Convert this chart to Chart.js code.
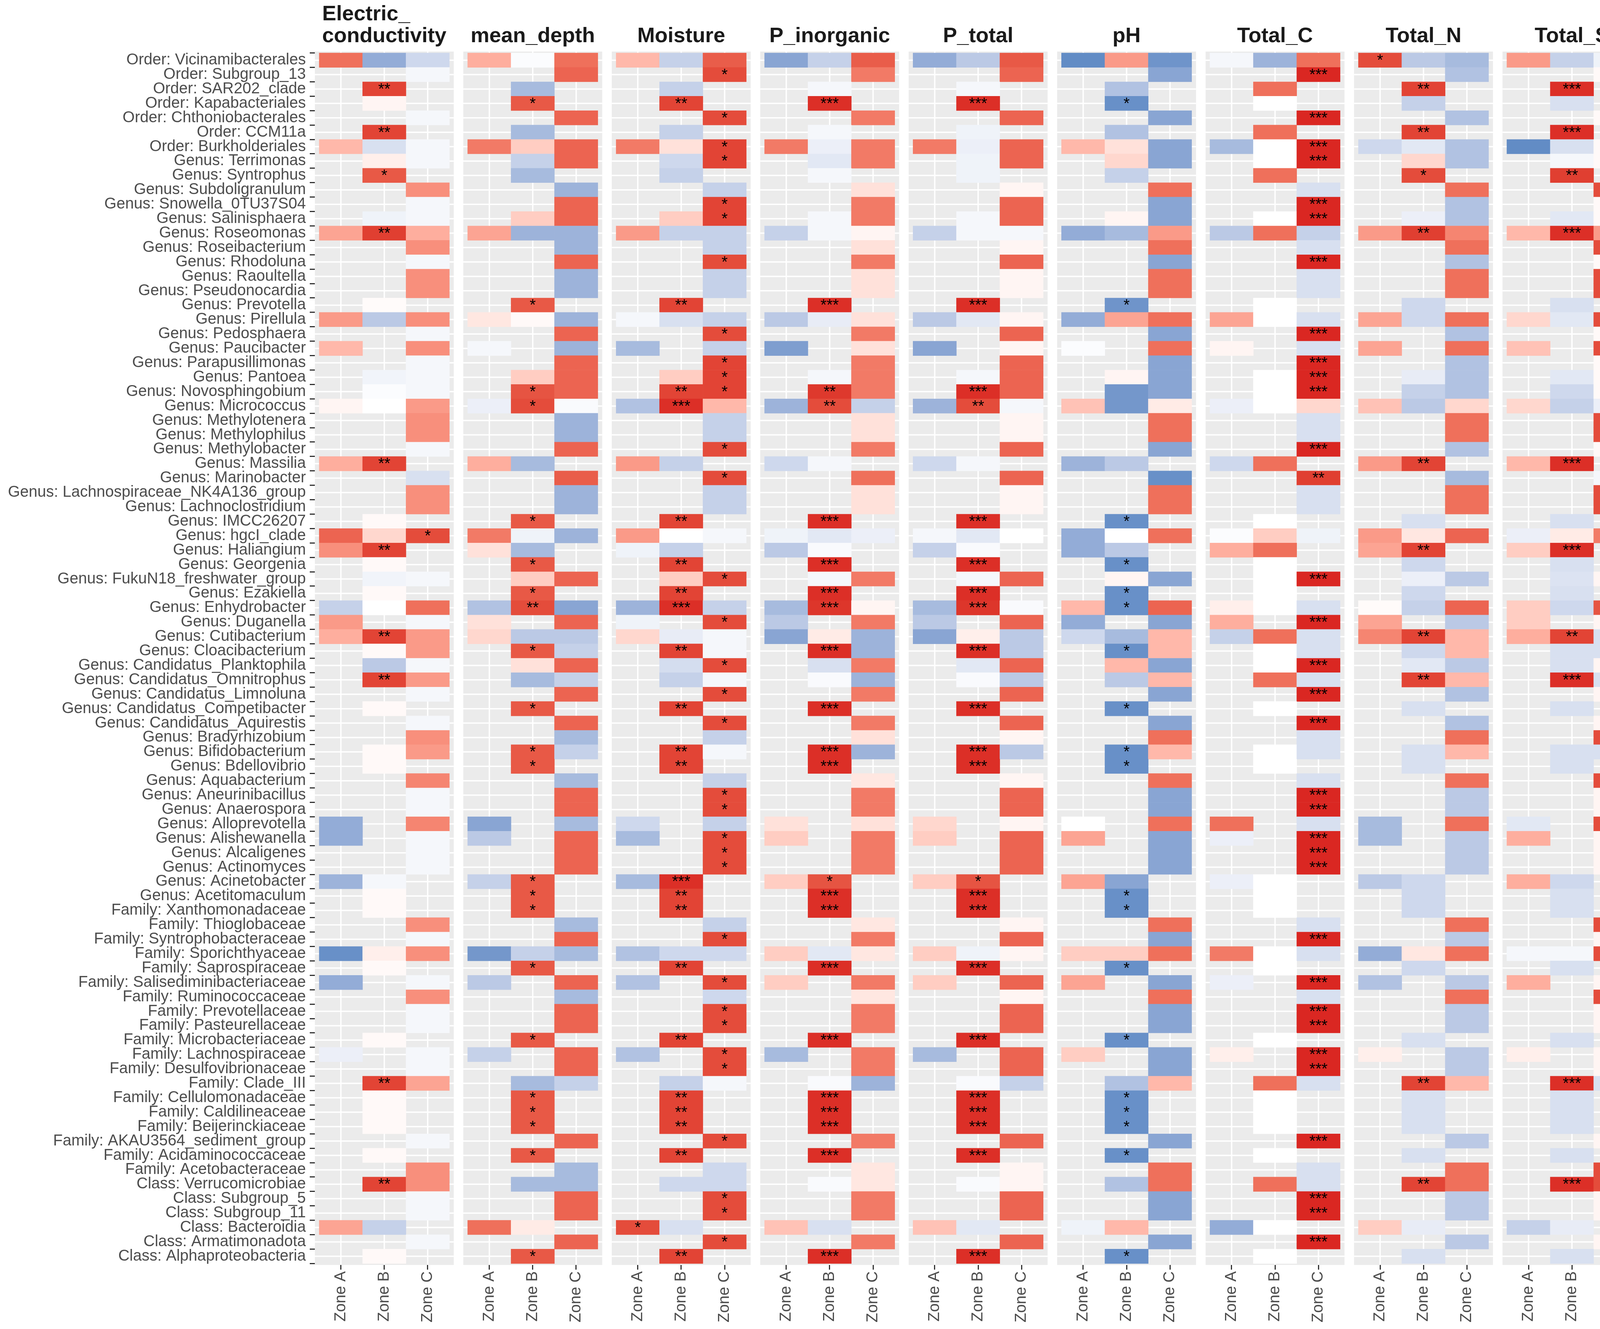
<!DOCTYPE html>
<html>
<head>
<meta charset="utf-8">
<script src="https://cdn.jsdelivr.net/npm/chart.js"></script>
<style>
  html, body { margin: 0; padding: 0; background: #ffffff; }
  canvas { display: block; }
</style>
</head>
<body>
<canvas id="heat" width="4550" height="3403" style="width:4550px;height:3403px"></canvas>
<script>
const _ = null;

// taxa, top to bottom
const rowLabels = [
  'Order: Vicinamibacterales', 'Order: Subgroup_13', 'Order: SAR202_clade', 'Order: Kapabacteriales',
  'Order: Chthoniobacterales', 'Order: CCM11a', 'Order: Burkholderiales', 'Genus: Terrimonas',
  'Genus: Syntrophus', 'Genus: Subdoligranulum', 'Genus: Snowella_0TU37S04', 'Genus: Salinisphaera',
  'Genus: Roseomonas', 'Genus: Roseibacterium', 'Genus: Rhodoluna', 'Genus: Raoultella',
  'Genus: Pseudonocardia', 'Genus: Prevotella', 'Genus: Pirellula', 'Genus: Pedosphaera',
  'Genus: Paucibacter', 'Genus: Parapusillimonas', 'Genus: Pantoea', 'Genus: Novosphingobium',
  'Genus: Micrococcus', 'Genus: Methylotenera', 'Genus: Methylophilus', 'Genus: Methylobacter',
  'Genus: Massilia', 'Genus: Marinobacter', 'Genus: Lachnospiraceae_NK4A136_group', 'Genus: Lachnoclostridium',
  'Genus: IMCC26207', 'Genus: hgcI_clade', 'Genus: Haliangium', 'Genus: Georgenia',
  'Genus: FukuN18_freshwater_group', 'Genus: Ezakiella', 'Genus: Enhydrobacter', 'Genus: Duganella',
  'Genus: Cutibacterium', 'Genus: Cloacibacterium', 'Genus: Candidatus_Planktophila', 'Genus: Candidatus_Omnitrophus',
  'Genus: Candidatus_Limnoluna', 'Genus: Candidatus_Competibacter', 'Genus: Candidatus_Aquirestis', 'Genus: Bradyrhizobium',
  'Genus: Bifidobacterium', 'Genus: Bdellovibrio', 'Genus: Aquabacterium', 'Genus: Aneurinibacillus',
  'Genus: Anaerospora', 'Genus: Alloprevotella', 'Genus: Alishewanella', 'Genus: Alcaligenes',
  'Genus: Actinomyces', 'Genus: Acinetobacter', 'Genus: Acetitomaculum', 'Family: Xanthomonadaceae',
  'Family: Thioglobaceae', 'Family: Syntrophobacteraceae', 'Family: Sporichthyaceae', 'Family: Saprospiraceae',
  'Family: Salisediminibacteriaceae', 'Family: Ruminococcaceae', 'Family: Prevotellaceae', 'Family: Pasteurellaceae',
  'Family: Microbacteriaceae', 'Family: Lachnospiraceae', 'Family: Desulfovibrionaceae', 'Family: Clade_III',
  'Family: Cellulomonadaceae', 'Family: Caldilineaceae', 'Family: Beijerinckiaceae', 'Family: AKAU3564_sediment_group',
  'Family: Acidaminococcaceae', 'Family: Acetobacteraceae', 'Class: Verrucomicrobiae', 'Class: Subgroup_5',
  'Class: Subgroup_11', 'Class: Bacteroidia', 'Class: Armatimonadota', 'Class: Alphaproteobacteria'
];

const zoneNames = ['Zone A', 'Zone B', 'Zone C'];
const legendTicks = [1.0, 0.5, 0.0, -0.5];

// correlation per taxon, [Zone A, Zone B, Zone C]; null = not present
const ecVals = [
  [.7,-.55,-.25], [_,_,-.05], [_,.88,_], [_,.05,_], [_,_,-.05], [_,.88,_], [.35,-.2,-.05],
  [_,.08,-.05], [_,.8,_], [_,_,.55], [_,_,-.05], [_,-.08,-.05], [.45,.9,.4], [_,_,.55],
  [_,_,-.05], [_,_,.55], [_,_,.55], [_,.02,_], [.5,-.35,.55], [_,_,-.05], [.35,_,.55],
  [_,_,-.05], [_,-.07,-.05], [_,-.02,-.05], [.05,0,.5], [_,_,.55], [_,_,.55], [_,_,-.05],
  [.4,.88,_], [_,_,-.2], [_,_,.55], [_,_,.55], [_,.03,_], [.75,.2,.85], [.55,.88,_],
  [_,.03,_], [_,-.07,-.05], [_,.03,_], [-.3,0,.7], [.5,_,-.05], [.4,.88,.5], [_,.03,.5],
  [_,-.35,-.05], [_,.88,.5], [_,_,-.05], [_,.03,_], [_,_,-.05], [_,_,.55], [_,.03,.5],
  [_,.03,_], [_,_,.6], [_,_,-.05], [_,_,-.05], [-.55,_,.6], [-.55,_,-.05], [_,_,-.05],
  [_,_,-.05], [-.5,-.05,_], [_,.03,_], [_,.03,_], [_,_,.55], [_,_,-.05], [-.75,.08,.55],
  [_,.03,_], [-.55,_,-.05], [_,_,.55], [_,_,-.05], [_,_,-.05], [_,.03,_], [-.1,_,-.05],
  [_,_,-.05], [_,.88,.45], [_,.03,_], [_,.03,_], [_,.03,_], [_,_,-.05], [_,.03,_],
  [_,_,.55], [_,.88,.55], [_,_,-.05], [_,_,-.05], [.45,-.3,_], [_,_,-.05], [_,.03,_]
];
const depthVals = [
  [.4,-.02,.7], [_,_,.75], [_,-.45,_], [_,.8,_], [_,_,.75], [_,-.45,_], [.65,.25,.75],
  [_,-.3,.75], [_,-.45,_], [_,_,-.5], [_,_,.75], [_,.25,.75], [.45,-.5,-.5], [_,_,-.5],
  [_,_,.75], [_,_,-.5], [_,_,-.5], [_,.8,_], [.12,.03,-.5], [_,_,.75], [-.05,_,-.5],
  [_,_,.75], [_,.25,.75], [_,.82,.75], [-.1,.85,-.03], [_,_,-.5], [_,_,-.5], [_,_,.75],
  [.4,-.45,_], [_,_,.78], [_,_,-.5], [_,_,-.5], [_,.8,_], [.65,-.08,-.5], [.15,-.45,_],
  [_,.8,_], [_,.25,.75], [_,.8,_], [-.4,.85,-.6], [.15,_,.75], [.2,-.35,-.35], [_,.8,-.3],
  [_,.15,.75], [_,-.45,-.3], [_,_,.75], [_,.8,_], [_,_,.75], [_,_,-.45], [_,.8,-.3],
  [_,.8,_], [_,_,-.45], [_,_,.75], [_,_,.75], [-.6,_,-.45], [-.35,_,.75], [_,_,.75],
  [_,_,.75], [-.3,.8,_], [_,.8,_], [_,.8,_], [_,_,-.45], [_,_,.75], [-.7,-.3,-.45],
  [_,.8,_], [-.35,_,.75], [_,_,-.45], [_,_,.75], [_,_,.75], [_,.8,_], [-.3,_,.75],
  [_,_,.75], [_,-.45,-.3], [_,.8,_], [_,.8,_], [_,.8,_], [_,_,.75], [_,.8,_],
  [_,_,-.45], [_,-.45,-.45], [_,_,.75], [_,_,.75], [.7,.1,_], [_,_,.75], [_,.8,_]
];
const moistVals = [
  [.35,-.3,.78], [_,_,.85], [_,-.3,_], [_,.88,_], [_,_,.85], [_,-.3,_], [.65,.15,.88],
  [_,-.25,.88], [_,-.3,_], [_,_,-.3], [_,_,.88], [_,.25,.88], [.5,-.3,-.3], [_,_,-.3],
  [_,_,.85], [_,_,-.3], [_,_,-.3], [_,.88,_], [-.05,-.2,-.3], [_,_,.85], [-.45,_,-.3],
  [_,_,.88], [_,.25,.88], [_,.88,.88], [-.4,.95,.35], [_,_,-.3], [_,_,-.3], [_,_,.85],
  [.5,-.3,_], [_,_,.85], [_,_,-.3], [_,_,-.3], [_,.88,_], [.5,0,-.05], [-.08,-.3,_],
  [_,.88,_], [_,.25,.85], [_,.88,_], [-.5,.95,-.3], [-.08,_,.85], [.2,-.12,-.05], [_,.88,-.05],
  [_,-.22,.85], [_,-.3,-.05], [_,_,.85], [_,.88,_], [_,_,.85], [_,_,-.3], [_,.88,-.05],
  [_,.88,_], [_,_,-.3], [_,_,.85], [_,_,.85], [-.25,_,-.3], [-.45,_,.85], [_,_,.85],
  [_,_,.85], [-.45,.95,_], [_,.88,_], [_,.88,_], [_,_,-.3], [_,_,.85], [-.4,-.25,-.25],
  [_,.88,_], [-.4,_,.85], [_,_,-.25], [_,_,.85], [_,_,.85], [_,.88,_], [-.4,_,.85],
  [_,_,.85], [_,-.3,-.05], [_,.88,_], [_,.88,_], [_,.88,_], [_,_,.85], [_,.88,_],
  [_,_,-.25], [_,-.25,-.25], [_,_,.85], [_,_,.85], [.85,-.2,_], [_,_,.85], [_,.88,_]
];
const pinVals = [
  [-.6,-.3,.78], [_,_,.65], [_,-.05,_], [_,.95,_], [_,_,.65], [_,-.05,_], [.65,-.1,.65],
  [_,-.15,.65], [_,-.05,_], [_,_,.15], [_,_,.65], [_,-.05,.65], [-.3,-.05,.05], [_,_,.15],
  [_,_,.65], [_,_,.15], [_,_,.15], [_,.95,_], [-.35,-.12,.15], [_,_,.65], [-.65,_,.15],
  [_,_,.65], [_,-.05,.65], [_,.92,.65], [-.5,.85,-.3], [_,_,.15], [_,_,.15], [_,_,.65],
  [-.25,-.05,_], [_,_,.7], [_,_,.15], [_,_,.15], [_,.95,_], [-.08,-.15,-.1], [-.35,-.03,_],
  [_,.95,_], [_,-.05,.65], [_,.95,_], [-.45,.93,.05], [-.35,_,.65], [-.6,.1,-.5], [_,.95,-.5],
  [_,-.2,.65], [_,-.03,-.5], [_,_,.65], [_,.95,_], [_,_,.65], [_,_,.15], [_,.95,-.5],
  [_,.95,_], [_,_,.12], [_,_,.65], [_,_,.65], [.15,_,.15], [.25,_,.65], [_,_,.65],
  [_,_,.65], [.25,.82,_], [_,.95,_], [_,.95,_], [_,_,.12], [_,_,.65], [.25,-.15,.12],
  [_,.95,_], [.25,_,.65], [_,_,.12], [_,_,.65], [_,_,.65], [_,.95,_], [-.45,_,.65],
  [_,_,.65], [_,-.03,-.5], [_,.95,_], [_,.95,_], [_,.95,_], [_,_,.65], [_,.95,_],
  [_,_,.12], [_,-.03,.12], [_,_,.65], [_,_,.65], [.3,-.2,_], [_,_,.65], [_,.95,_]
];
const ptotVals = [
  [-.55,-.35,.8], [_,_,.75], [_,-.05,_], [_,.95,_], [_,_,.75], [_,-.08,_], [.65,-.1,.75],
  [_,-.08,.75], [_,-.08,_], [_,_,.05], [_,_,.75], [_,-.05,.75], [-.3,-.05,-.05], [_,_,.05],
  [_,_,.75], [_,_,.05], [_,_,.05], [_,.95,_], [-.35,-.15,.05], [_,_,.75], [-.6,_,.05],
  [_,_,.75], [_,-.05,.75], [_,.95,.75], [-.5,.85,-.05], [_,_,.05], [_,_,.05], [_,_,.75],
  [-.25,-.05,_], [_,_,.75], [_,_,.05], [_,_,.05], [_,.95,_], [-.05,-.15,0], [-.3,-.03,_],
  [_,.95,_], [_,-.05,.75], [_,.95,_], [-.45,.93,-.03], [-.35,_,.75], [-.6,.08,-.35], [_,.95,-.35],
  [_,-.15,.75], [_,-.03,-.35], [_,_,.75], [_,.95,_], [_,_,.75], [_,_,.05], [_,.95,-.35],
  [_,.95,_], [_,_,.05], [_,_,.75], [_,_,.75], [.2,_,.05], [.25,_,.75], [_,_,.75],
  [_,_,.75], [.25,.82,_], [_,.95,_], [_,.95,_], [_,_,.05], [_,_,.75], [.25,-.08,.05],
  [_,.95,_], [.25,_,.75], [_,_,.05], [_,_,.75], [_,_,.75], [_,.95,_], [-.45,_,.75],
  [_,_,.75], [_,-.03,-.3], [_,.95,_], [_,.95,_], [_,.95,_], [_,_,.75], [_,.95,_],
  [_,_,.05], [_,-.03,.05], [_,_,.75], [_,_,.75], [.3,-.15,_], [_,_,.75], [_,.95,_]
];
const phVals = [
  [-.78,.5,-.72], [_,_,-.6], [_,-.4,_], [_,-.75,_], [_,_,-.6], [_,-.4,_], [.35,.15,-.6],
  [_,.2,-.6], [_,-.3,_], [_,_,.7], [_,_,-.6], [_,.05,-.6], [-.55,-.45,.5], [_,_,.7],
  [_,_,-.6], [_,_,.7], [_,_,.7], [_,-.72,_], [-.55,.45,.7], [_,_,-.6], [-.02,_,.7],
  [_,_,-.6], [_,.05,-.6], [_,-.7,-.6], [.3,-.7,.1], [_,_,.7], [_,_,.7], [_,_,-.6],
  [-.5,-.35,_], [_,_,-.75], [_,_,.7], [_,_,.7], [_,-.75,_], [-.55,0,.7], [-.55,-.35,_],
  [_,-.75,_], [_,.05,-.6], [_,-.75,_], [.35,-.75,.75], [-.55,_,-.6], [-.25,-.45,.35], [_,-.75,.35],
  [_,.35,-.6], [_,-.35,.35], [_,_,-.6], [_,-.75,_], [_,_,-.6], [_,_,.7], [_,-.75,.35],
  [_,-.75,_], [_,_,.7], [_,_,-.6], [_,_,-.6], [0,_,.7], [.45,_,-.6], [_,_,-.6],
  [_,_,-.6], [.45,-.6,_], [_,-.75,_], [_,-.75,_], [_,_,.7], [_,_,-.6], [.25,.25,.7],
  [_,-.75,_], [.45,_,-.6], [_,_,.7], [_,_,-.6], [_,_,-.6], [_,-.75,_], [.25,_,-.6],
  [_,_,-.6], [_,-.4,.35], [_,-.75,_], [_,-.75,_], [_,-.75,_], [_,_,-.6], [_,-.75,_],
  [_,_,.7], [_,-.4,.7], [_,_,-.6], [_,_,-.6], [-.08,.35,_], [_,_,-.6], [_,-.75,_]
];
const tcVals = [
  [-.05,-.5,.7], [_,_,.97], [_,.7,_], [_,0,_], [_,_,.97], [_,.7,_], [-.45,0,.97],
  [_,0,.97], [_,.7,_], [_,_,-.2], [_,_,.97], [_,0,.97], [-.35,.7,-.3], [_,_,-.2],
  [_,_,.97], [_,_,-.2], [_,_,-.2], [_,0,_], [.45,0,-.2], [_,_,.97], [.05,_,-.2],
  [_,_,.97], [_,0,.97], [_,0,.97], [-.1,0,.2], [_,_,-.2], [_,_,-.2], [_,_,.97],
  [-.25,.7,_], [_,_,.9], [_,_,-.2], [_,_,-.2], [_,0,_], [-.02,.25,-.08], [.4,.7,_],
  [_,0,_], [_,0,.97], [_,0,_], [.08,0,-.2], [.4,_,.97], [-.3,.7,-.2], [_,0,-.2],
  [_,0,.97], [_,.7,-.2], [_,_,.97], [_,0,_], [_,_,.97], [_,_,-.2], [_,0,-.2],
  [_,0,_], [_,_,-.2], [_,_,.97], [_,_,.97], [.7,_,-.2], [-.1,_,.97], [_,_,.97],
  [_,_,.97], [-.1,0,_], [_,0,_], [_,0,_], [_,_,-.2], [_,_,.97], [.65,0,-.2],
  [_,0,_], [-.1,_,.97], [_,_,-.2], [_,_,.97], [_,_,.97], [_,0,_], [.08,_,.97],
  [_,_,.97], [_,.7,-.2], [_,0,_], [_,0,_], [_,0,_], [_,_,.97], [_,0,_],
  [_,_,-.2], [_,.7,-.2], [_,_,.97], [_,_,.97], [-.55,0,_], [_,_,.97], [_,0,_]
];
const tnVals = [
  [.85,-.35,-.45], [_,_,-.4], [_,.88,_], [_,-.3,_], [_,_,-.4], [_,.88,_], [-.25,-.15,-.4],
  [_,.2,-.4], [_,.85,_], [_,_,.7], [_,_,-.4], [_,-.1,-.4], [.5,.9,.6], [_,_,.7],
  [_,_,-.4], [_,_,.7], [_,_,.7], [_,-.25,_], [.45,-.25,.7], [_,_,-.4], [.45,_,.7],
  [_,_,-.4], [_,-.12,-.4], [_,-.3,-.4], [.3,-.35,.2], [_,_,.7], [_,_,.7], [_,_,-.4],
  [.5,.88,_], [_,_,-.45], [_,_,.7], [_,_,.7], [_,-.2,_], [.5,.12,.75], [.45,.88,_],
  [_,-.25,_], [_,-.1,-.35], [_,-.25,_], [.02,-.3,.75], [.45,_,-.35], [.6,.88,.35], [_,-.25,.35],
  [_,-.15,-.35], [_,.88,.35], [_,_,-.4], [_,-.2,_], [_,_,-.4], [_,_,.7], [_,-.2,.35],
  [_,-.2,_], [_,_,.7], [_,_,-.35], [_,_,-.35], [-.45,_,.7], [-.45,_,-.35], [_,_,-.35],
  [_,_,-.35], [-.35,-.25,_], [_,-.25,_], [_,-.25,_], [_,_,.7], [_,_,-.35], [-.55,.12,.7],
  [_,-.25,_], [-.4,_,-.35], [_,_,.7], [_,_,-.35], [_,_,-.35], [_,-.2,_], [.08,_,-.35],
  [_,_,-.35], [_,.88,.35], [_,-.2,_], [_,-.2,_], [_,-.2,_], [_,_,-.35], [_,-.2,_],
  [_,_,.7], [_,.88,.7], [_,_,-.35], [_,_,-.35], [.25,-.12,_], [_,_,-.35], [_,-.2,_]
];
const tsVals = [
  [.5,-.3,-.08], [_,_,.03], [_,.95,_], [_,-.2,_], [_,_,.03], [_,.95,_], [-.78,-.2,.03],
  [_,-.05,.03], [_,.9,_], [_,_,.85], [_,_,.03], [_,-.15,.03], [.35,.95,.5], [_,_,.85],
  [_,_,.03], [_,_,.85], [_,_,.85], [_,-.2,_], [.2,-.15,.85], [_,_,.03], [.3,_,.85],
  [_,_,.03], [_,-.15,.03], [_,-.25,.03], [.2,-.3,-.1], [_,_,.85], [_,_,.85], [_,_,.03],
  [.35,.95,_], [_,_,-.05], [_,_,.85], [_,_,.85], [_,-.2,_], [-.1,.1,.65], [.25,.95,_],
  [_,-.2,_], [_,-.18,.05], [_,-.2,_], [.25,-.25,.82], [.25,_,.05], [.4,.88,-.2], [_,-.2,-.2],
  [_,-.2,.05], [_,.95,-.2], [_,_,.05], [_,-.2,_], [_,_,.05], [_,_,.85], [_,-.2,-.2],
  [_,-.2,_], [_,_,.85], [_,_,.05], [_,_,.05], [-.15,_,.85], [.4,_,.05], [_,_,.05],
  [_,_,.05], [.4,-.25,_], [_,-.2,_], [_,-.2,_], [_,_,.85], [_,_,.05], [-.05,-.05,.85],
  [_,-.2,_], [.4,_,.05], [_,_,.85], [_,_,.05], [_,_,.05], [_,-.2,_], [.08,_,.05],
  [_,_,.05], [_,.95,-.2], [_,-.2,_], [_,-.2,_], [_,-.2,_], [_,_,.05], [_,-.2,_],
  [_,_,.85], [_,.95,.85], [_,_,.05], [_,_,.05], [-.3,-.12,_], [_,_,.05], [_,-.2,_]
];

// significance marks: [zone, mark, row numbers (1 = top)]
const ecStars = [['B', '**', [3, 6, 13, 29, 35, 41, 44, 72, 79]], ['B', '*', [9]], ['C', '*', [34]]];
const depthStars = [['B', '*', [4, 18, 24, 25, 33, 36, 38, 42, 46, 49, 50, 58, 59, 60, 64, 69, 73, 74, 75, 77, 84]], ['B', '**', [39]]];
const moistStars = [
  ['A', '*', [82]],
  ['B', '**', [4, 18, 24, 33, 36, 38, 42, 46, 49, 50, 59, 60, 64, 69, 73, 74, 75, 77, 84]],
  ['B', '***', [25, 39, 58]],
  ['C', '*', [2, 5, 7, 8, 11, 12, 15, 20, 22, 23, 24, 28, 30, 37, 40, 43, 45, 47, 52, 53, 55, 56, 57, 62, 65, 67, 68, 70, 71, 76, 80, 81, 83]]
];
const pinStars = [['B', '***', [4, 18, 33, 36, 38, 39, 42, 46, 49, 50, 59, 60, 64, 69, 73, 74, 75, 77, 84]], ['B', '**', [24, 25]], ['B', '*', [58]]];
const ptotStars = [['B', '***', [4, 18, 24, 33, 36, 38, 39, 42, 46, 49, 50, 59, 60, 64, 69, 73, 74, 75, 77, 84]], ['B', '**', [25]], ['B', '*', [58]]];
const phStars = [['B', '*', [4, 18, 33, 36, 38, 39, 42, 46, 49, 50, 59, 60, 64, 69, 73, 74, 75, 77, 84]]];
const tcStars = [
  ['C', '***', [2, 5, 7, 8, 11, 12, 15, 20, 22, 23, 24, 28, 37, 40, 43, 45, 47, 52, 53, 55, 56, 57, 62, 65, 67, 68, 70, 71, 76, 80, 81, 83]],
  ['C', '**', [30]]
];
const tnStars = [['A', '*', [1]], ['B', '**', [3, 6, 13, 29, 35, 41, 44, 72, 79]], ['B', '*', [9]]];
const tsStars = [
  ['B', '***', [3, 6, 13, 29, 35, 44, 72, 79]],
  ['B', '**', [9, 41]],
  ['C', '*', [10, 14, 16, 17, 19, 21, 26, 27, 31, 32, 48, 51, 54, 61, 63, 66, 78, 79]]
];

const panels = [
  { title: ['Electric_', 'conductivity'], vals: ecVals, stars: ecStars },
  { title: ['mean_depth'], vals: depthVals, stars: depthStars },
  { title: ['Moisture'], vals: moistVals, stars: moistStars },
  { title: ['P_inorganic'], vals: pinVals, stars: pinStars },
  { title: ['P_total'], vals: ptotVals, stars: ptotStars },
  { title: ['pH'], vals: phVals, stars: phStars },
  { title: ['Total_C'], vals: tcVals, stars: tcStars },
  { title: ['Total_N'], vals: tnVals, stars: tnStars },
  { title: ['Total_S'], vals: tsVals, stars: tsStars }
];

// facet geometry in x-scale units
const PANEL_STEP = 3.42;
const PANEL_W = 3.2;
const zoneCenter = (p, z) => p * PANEL_STEP + 0.6 + z;

const FONT = "'Liberation Sans', Arial, Helvetica, sans-serif";
Chart.defaults.font.family = FONT;

// diverging fill, interpolated in Lab like ggplot's gradient2
function hexRgb(h) {
  const n = parseInt(h.slice(1), 16);
  return [(n >> 16) & 255, (n >> 8) & 255, n & 255];
}
function rgbToLab(rgb) {
  const lin = c => { c /= 255; return c <= 0.04045 ? c / 12.92 : Math.pow((c + 0.055) / 1.055, 2.4); };
  const R = lin(rgb[0]), G = lin(rgb[1]), B = lin(rgb[2]);
  const X = (0.4124 * R + 0.3576 * G + 0.1805 * B) / 0.95047;
  const Y = 0.2126 * R + 0.7152 * G + 0.0722 * B;
  const Z = (0.0193 * R + 0.1192 * G + 0.9505 * B) / 1.08883;
  const f = t => t > 0.008856 ? Math.cbrt(t) : 7.787 * t + 16 / 116;
  return [116 * f(Y) - 16, 500 * (f(X) - f(Y)), 200 * (f(Y) - f(Z))];
}
function labToRgb(lab) {
  const fy = (lab[0] + 16) / 116, fx = fy + lab[1] / 500, fz = fy - lab[2] / 200;
  const inv = t => (t * t * t > 0.008856 ? t * t * t : (t - 16 / 116) / 7.787);
  const X = inv(fx) * 0.95047, Y = inv(fy), Z = inv(fz) * 1.08883;
  const R = 3.2406 * X - 1.5372 * Y - 0.4986 * Z;
  const G = -0.9689 * X + 1.8758 * Y + 0.0415 * Z;
  const B = 0.0557 * X - 0.2040 * Y + 1.0570 * Z;
  const gam = c => {
    c = c <= 0.0031308 ? 12.92 * c : 1.055 * Math.pow(c, 1 / 2.4) - 0.055;
    return Math.round(Math.min(1, Math.max(0, c)) * 255);
  };
  return [gam(R), gam(G), gam(B)];
}
const LOW = rgbToLab(hexRgb('#1C6EB5'));
const MID = rgbToLab(hexRgb('#FFFFFF'));
const HIGH = rgbToLab(hexRgb('#D7191C'));
function corrColor(v) {
  const end = v >= 0 ? HIGH : LOW;
  const t = Math.min(1, Math.abs(v));
  const c = labToRgb([0, 1, 2].map(i => MID[i] + (end[i] - MID[i]) * t));
  return `rgb(${c[0]},${c[1]},${c[2]})`;
}

// one dataset per facet, each tile a floating bar spanning its zone
const datasets = panels.map((pn, p) => {
  const data = [];
  pn.vals.forEach((row, r) => {
    row.forEach((v, z) => {
      if (v === null) return;
      const c = zoneCenter(p, z);
      data.push({ x: [c - 0.5, c + 0.5], y: r + 1, v: v });
    });
  });
  return {
    data: data,
    backgroundColor: ctx => (ctx.raw ? corrColor(ctx.raw.v) : 'rgba(0,0,0,0)'),
    borderWidth: 0,
    borderSkipped: false,
    grouped: false,
    categoryPercentage: 1,
    barPercentage: 1
  };
});

// grey panels + white grid behind the tiles
const panelBack = {
  id: 'panelBack',
  beforeDatasetsDraw(chart) {
    const { ctx, chartArea: a, scales: { x, y } } = chart;
    ctx.save();
    panels.forEach((pn, p) => {
      const x0 = x.getPixelForValue(p * PANEL_STEP);
      const x1 = x.getPixelForValue(p * PANEL_STEP + PANEL_W);
      ctx.fillStyle = '#EBEBEB';
      ctx.fillRect(x0, a.top, x1 - x0, a.bottom - a.top);
      ctx.strokeStyle = '#FFFFFF';
      ctx.lineWidth = 3.5;
      ctx.beginPath();
      rowLabels.forEach((lab, r) => {
        const yy = y.getPixelForValue(r + 1);
        ctx.moveTo(x0, yy);
        ctx.lineTo(x1, yy);
      });
      zoneNames.forEach((zn, z) => {
        const xx = x.getPixelForValue(zoneCenter(p, z));
        ctx.moveTo(xx, a.top);
        ctx.lineTo(xx, a.bottom);
      });
      ctx.stroke();
    });
    ctx.restore();
  }
};

// asterisks on top of tiles
const starMarks = {
  id: 'starMarks',
  afterDatasetsDraw(chart) {
    const { ctx, scales: { x, y } } = chart;
    ctx.save();
    ctx.fillStyle = '#000000';
    ctx.font = `40px ${FONT}`;
    ctx.textAlign = 'center';
    ctx.textBaseline = 'middle';
    panels.forEach((pn, p) => {
      pn.stars.forEach(([zone, mark, rows]) => {
        const z = zoneNames.indexOf('Zone ' + zone);
        const xx = x.getPixelForValue(zoneCenter(p, z));
        rows.forEach(r => ctx.fillText(mark, xx, y.getPixelForValue(r) + 2));
      });
    });
    ctx.restore();
  }
};

// facet titles and colourbar legend
const decorations = {
  id: 'decorations',
  afterDraw(chart) {
    const { ctx, scales: { x } } = chart;
    ctx.save();
    ctx.fillStyle = '#1A1A1A';
    ctx.font = `bold 54px ${FONT}`;
    ctx.textBaseline = 'alphabetic';
    ctx.textAlign = 'left';
    panels.forEach((pn, p) => {
      const cx = x.getPixelForValue(p * PANEL_STEP + PANEL_W / 2);
      const w = Math.max(...pn.title.map(t => ctx.measureText(t).width));
      const baselines = pn.title.length === 2 ? [52, 108] : [108];
      pn.title.forEach((t, i) => ctx.fillText(t, cx - w / 2, baselines[i]));
    });

    // colourbar
    const barL = 4294, barW = 77, zeroY = 1723, perUnit = 201;
    const vTop = 1.0, vBot = -0.87;
    const yTop = zeroY - vTop * perUnit, yBot = zeroY - vBot * perUnit;
    for (let yy = Math.floor(yTop); yy < yBot; yy++) {
      ctx.fillStyle = corrColor((zeroY - (yy + 0.5)) / perUnit);
      ctx.fillRect(barL, yy, barW, 1.2);
    }
    ctx.strokeStyle = '#FFFFFF';
    ctx.lineWidth = 2;
    ctx.beginPath();
    legendTicks.forEach(v => {
      const ty = zeroY - v * perUnit;
      ctx.moveTo(barL, ty); ctx.lineTo(barL + 15, ty);
      ctx.moveTo(barL + barW - 15, ty); ctx.lineTo(barL + barW, ty);
    });
    ctx.stroke();
    ctx.fillStyle = '#1A1A1A';
    ctx.font = `40px ${FONT}`;
    ctx.textBaseline = 'middle';
    legendTicks.forEach(v => {
      const s = v.toFixed(1).replace('-', '\u2212');
      ctx.fillText(s, barL + barW + 16, zeroY - v * perUnit);
    });
    ctx.fillStyle = '#000000';
    ctx.font = `49px ${FONT}`;
    ctx.textBaseline = 'alphabetic';
    ctx.fillText('Correlation', barL - 4, 1492);
    ctx.restore();
  }
};

new Chart(document.getElementById('heat'), {
  type: 'bar',
  data: { datasets: datasets },
  options: {
    indexAxis: 'y',
    responsive: false,
    devicePixelRatio: 1,
    animation: false,
    events: [],
    layout: { padding: { top: 132, right: 348, left: 0, bottom: 0 } },
    plugins: { legend: { display: false }, tooltip: { enabled: false } },
    scales: {
      x: {
        type: 'linear',
        min: 0,
        max: 8 * PANEL_STEP + PANEL_W,
        offset: false,
        border: { display: false },
        grid: { drawOnChartArea: false, drawTicks: true, tickLength: 12, color: '#333333', lineWidth: 3 },
        afterBuildTicks: scale => {
          const t = [];
          panels.forEach((pn, p) => zoneNames.forEach((zn, z) => t.push({ value: zoneCenter(p, z) })));
          scale.ticks = t;
        },
        afterFit: scale => { scale.height = 164; },
        ticks: {
          autoSkip: false,
          minRotation: 90,
          maxRotation: 90,
          padding: 4,
          color: '#4D4D4D',
          font: { size: 40 },
          callback: (value, index) => zoneNames[index % 3]
        }
      },
      y: {
        type: 'linear',
        reverse: true,
        min: 0.4,
        max: rowLabels.length + 0.6,
        offset: false,
        border: { display: false },
        grid: { drawOnChartArea: false, drawTicks: true, tickLength: 13, color: '#333333', lineWidth: 3 },
        afterBuildTicks: scale => { scale.ticks = rowLabels.map((lab, i) => ({ value: i + 1 })); },
        afterFit: scale => { scale.width = 806; },
        ticks: {
          autoSkip: false,
          padding: 10,
          color: '#4D4D4D',
          font: { size: 40 },
          callback: value => rowLabels[Math.round(value) - 1]
        }
      }
    }
  },
  plugins: [panelBack, starMarks, decorations]
});
</script>
</body>
</html>
